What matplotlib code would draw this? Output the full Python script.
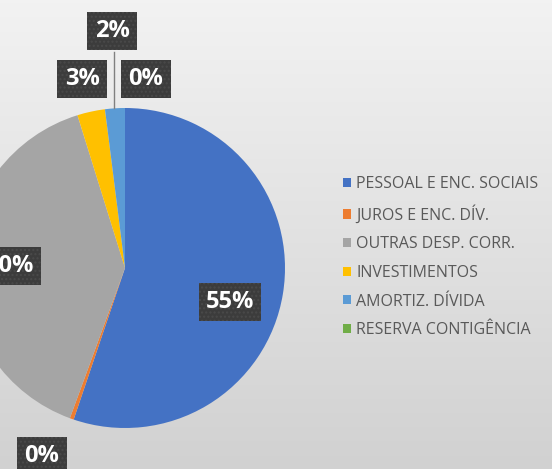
import matplotlib
matplotlib.use("Agg")
import matplotlib.pyplot as plt
import numpy as np

# dados do gráfico (percentuais)
categorias = ["PESSOAL E ENC. SOCIAIS", "JUROS E ENC. DÍV.", "OUTRAS DESP. CORR.",
              "INVESTIMENTOS", "AMORTIZ. DÍVIDA", "RESERVA CONTIGÊNCIA"]
valores = [55.2, 0.4, 39.6, 2.8, 2.0, 0.0]
cores = ["#4472C4", "#ED7D31", "#A5A5A5", "#FFC000", "#5B9BD5", "#70AD47"]

W, H = 552, 469
fig = plt.figure(figsize=(W / 100, H / 100), dpi=100)

# fundo com gradiente vertical
bg = fig.add_axes([0, 0, 1, 1])
grad = np.linspace(0, 1, 256).reshape(-1, 1)
top = np.array([0.95, 0.95, 0.95])
bot = np.array([0.82, 0.82, 0.82])
img = top + (bot - top) * grad[:, :, None]
bg.imshow(img, aspect="auto", extent=[0, 1, 0, 1], origin="upper")
bg.axis("off")

ax = fig.add_axes([0, 0, 1, 1])
ax.patch.set_alpha(0)

cx, cy, r = 125, H - 268, 160
wedges, _ = ax.pie(valores, colors=cores, startangle=90, counterclock=False,
                   center=(cx, cy), radius=r, frame=True,
                   wedgeprops=dict(linewidth=0))
ax.set_xlim(0, W)
ax.set_ylim(0, H)
ax.axis("off")

# posições dos rótulos (pixels a partir do topo)
pos_rotulos = [(230, 302), (42, 456), (10, 266), (82, 79), (112, 31), (146, 79)]

# linha de chamada do rótulo de 2%
ax.plot([114, 114], [H - 52, H - 108], color="#808080", lw=1, zorder=2)

for v, (px, py) in zip(valores, pos_rotulos):
    ax.text(px, H - py, f"{v:.0f}%", ha="center", va="center", color="white",
            fontsize=17, fontweight="bold", family=["Open Sans", "DejaVu Sans"],
            zorder=5,
            bbox=dict(boxstyle="square,pad=0.3", facecolor="#3c3c3c",
                      edgecolor="#4a4a4a", hatch="....", linewidth=0))

leg = ax.legend(wedges, categorias, loc="upper left", bbox_to_anchor=(329 / W, 1 - 162 / H),
                frameon=False, handlelength=0.5, handleheight=0.5, handletextpad=0.3,
                labelspacing=0.79, prop={"family": "Open Sans", "size": 11.5})
for t in leg.get_texts():
    t.set_color("#595959")

fig.savefig("out.png", dpi=100)
